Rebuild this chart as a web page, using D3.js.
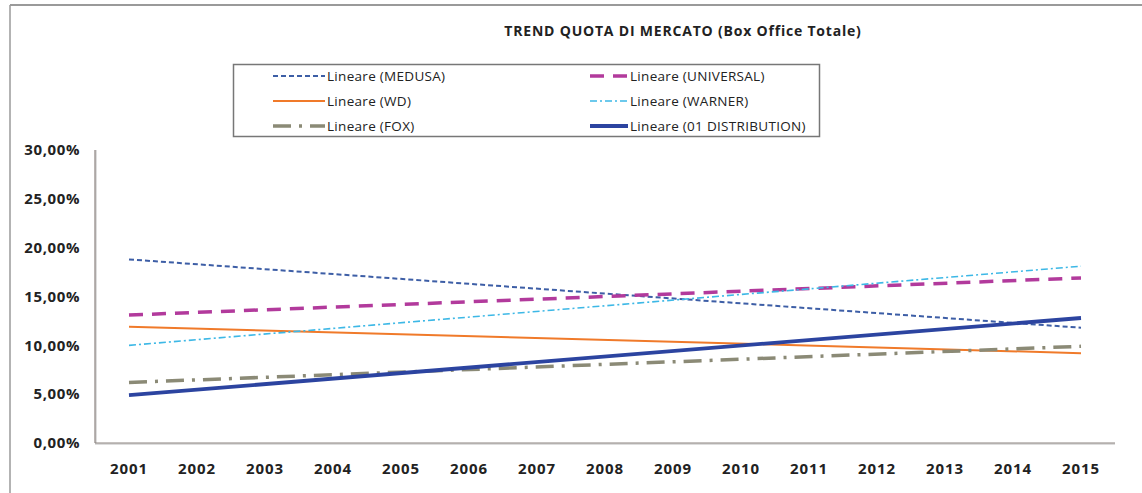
<!DOCTYPE html>
<html>
<head>
<meta charset="utf-8">
<script src="https://cdn.jsdelivr.net/npm/d3@7"></script>
<style>
  body { margin: 0; background: #fff; }
  text { font-family: "Open Sans", Lato, sans-serif; }
</style>
</head>
<body>
<div id="chart"></div>
<script>
var years = ['2001', '2002', '2003', '2004', '2005', '2006', '2007', '2008',
             '2009', '2010', '2011', '2012', '2013', '2014', '2015'];
var yTicks = [0, 0.05, 0.10, 0.15, 0.20, 0.25, 0.30];

// trend lines: value in first and last year
var seriesNames = ['Lineare (MEDUSA)', 'Lineare (UNIVERSAL)', 'Lineare (WD)',
                   'Lineare (WARNER)', 'Lineare (FOX)', 'Lineare (01 DISTRIBUTION)'];
var startValues = [0.188, 0.131, 0.119, 0.100, 0.062, 0.049];
var endValues   = [0.118, 0.169, 0.092, 0.181, 0.099, 0.128];

var styles = [
    {color: '#3d5ea6', width: 2,   dash: '5,3'},
    {color: '#b23a9c', width: 3.5, dash: '14,9'},
    {color: '#f07a2a', width: 2,   dash: null},
    {color: '#3db8e6', width: 1.6, dash: '7,3,2,3'},
    {color: '#8b8a76', width: 3.5, dash: '18,8,3,8'},
    {color: '#2c44a0', width: 3.8, dash: null}
];

var width = 1142, height = 493;
var svg = d3.select('#chart').append('svg')
    .attr('width', width)
    .attr('height', height);

// cornice esterna
svg.append('line').attr('x1', 10).attr('y1', 5).attr('x2', 1142).attr('y2', 5)
   .attr('stroke', '#9a9a9a').attr('stroke-width', 2);
svg.append('line').attr('x1', 10).attr('y1', 5).attr('x2', 10).attr('y2', 493)
   .attr('stroke', '#9a9a9a').attr('stroke-width', 1.5);

var margin = {left: 95, right: 27, top: 150, bottom: 50};
var x = d3.scaleBand()
    .domain(years)
    .range([margin.left, width - margin.right]);
var y = d3.scaleLinear()
    .domain([0, 0.30])
    .range([height - margin.bottom, margin.top]);

svg.append('text')
   .attr('x', 683).attr('y', 36)
   .attr('text-anchor', 'middle')
   .attr('font-size', 14).attr('font-weight', 'bold')
   .attr('letter-spacing', 0.8)
   .attr('fill', '#222')
   .text('TREND QUOTA DI MERCATO  (Box Office Totale)');

// assi dell'area del grafico (sinistra e sotto)
var plotBottom = y(0), plotTop = y(0.30);
svg.append('line')
   .attr('x1', margin.left + 1).attr('y1', plotTop).attr('x2', margin.left + 1).attr('y2', plotBottom + 1)
   .attr('stroke', '#ddd').attr('stroke-width', 2);
svg.append('line')
   .attr('x1', margin.left).attr('y1', plotTop).attr('x2', margin.left).attr('y2', plotBottom)
   .attr('stroke', '#8c8480').attr('stroke-width', 1.2);
svg.append('line')
   .attr('x1', margin.left).attr('y1', plotBottom + 1).attr('x2', width - margin.right).attr('y2', plotBottom + 1)
   .attr('stroke', '#ddd').attr('stroke-width', 2);
svg.append('line')
   .attr('x1', margin.left).attr('y1', plotBottom).attr('x2', width - margin.right).attr('y2', plotBottom)
   .attr('stroke', '#8c8480').attr('stroke-width', 1.2);

var fmt = function(d) { return d3.format('.2f')(d * 100).replace('.', ',') + '%'; };

var yAxis = svg.append('g')
    .attr('transform', 'translate(' + (margin.left - 15) + ',0)')
    .call(d3.axisLeft(y).tickValues(yTicks).tickFormat(fmt).tickSize(0).tickPadding(0));
yAxis.select('.domain').remove();
yAxis.selectAll('text')
     .attr('font-size', 15).attr('font-weight', 'bold').attr('fill', '#222')
     .attr('letter-spacing', 0.6)
     .attr('font-family', '"Open Sans", Lato, sans-serif');

var xAxis = svg.append('g')
    .attr('transform', 'translate(0,' + plotBottom + ')')
    .call(d3.axisBottom(x).tickSize(0).tickPadding(20));
xAxis.select('.domain').remove();
xAxis.selectAll('text')
     .attr('font-size', 15).attr('font-weight', 'bold').attr('fill', '#222')
     .attr('letter-spacing', 0.9)
     .attr('font-family', '"Open Sans", Lato, sans-serif');

// linee di tendenza
var first = years[0], last = years[years.length - 1];
var line = d3.line()
    .x(function(d) { return x(d.year) + x.bandwidth() / 2; })
    .y(function(d) { return y(d.value); });

seriesNames.forEach(function(name, i) {
    var pts = [{year: first, value: startValues[i]}, {year: last, value: endValues[i]}];
    svg.append('path')
       .attr('d', line(pts))
       .attr('fill', 'none')
       .attr('stroke', styles[i].color)
       .attr('stroke-width', styles[i].width)
       .attr('stroke-dasharray', styles[i].dash);
});

// legenda
var legend = svg.append('g');
legend.append('rect')
      .attr('x', 233.5).attr('y', 64.5).attr('width', 586).attr('height', 72)
      .attr('fill', '#fff').attr('stroke', '#777').attr('stroke-width', 1.5);

var colX = [273, 590];
var sampleLen = [52, 38];
var rowY = [76, 101, 126];
seriesNames.forEach(function(name, i) {
    var c = i % 2, r = Math.floor(i / 2);
    var g = legend.append('g');
    g.append('line')
     .attr('x1', colX[c]).attr('x2', colX[c] + sampleLen[c])
     .attr('y1', rowY[r]).attr('y2', rowY[r])
     .attr('stroke', styles[i].color)
     .attr('stroke-width', styles[i].width)
     .attr('stroke-dasharray', styles[i].dash);
    g.append('text')
     .attr('x', colX[c] + sampleLen[c] + 2)
     .attr('y', rowY[r])
     .attr('dy', '0.35em')
     .attr('font-size', 13.5)
     .attr('letter-spacing', 0.3)
     .attr('fill', '#222')
     .text(name);
});
</script>
</body>
</html>
